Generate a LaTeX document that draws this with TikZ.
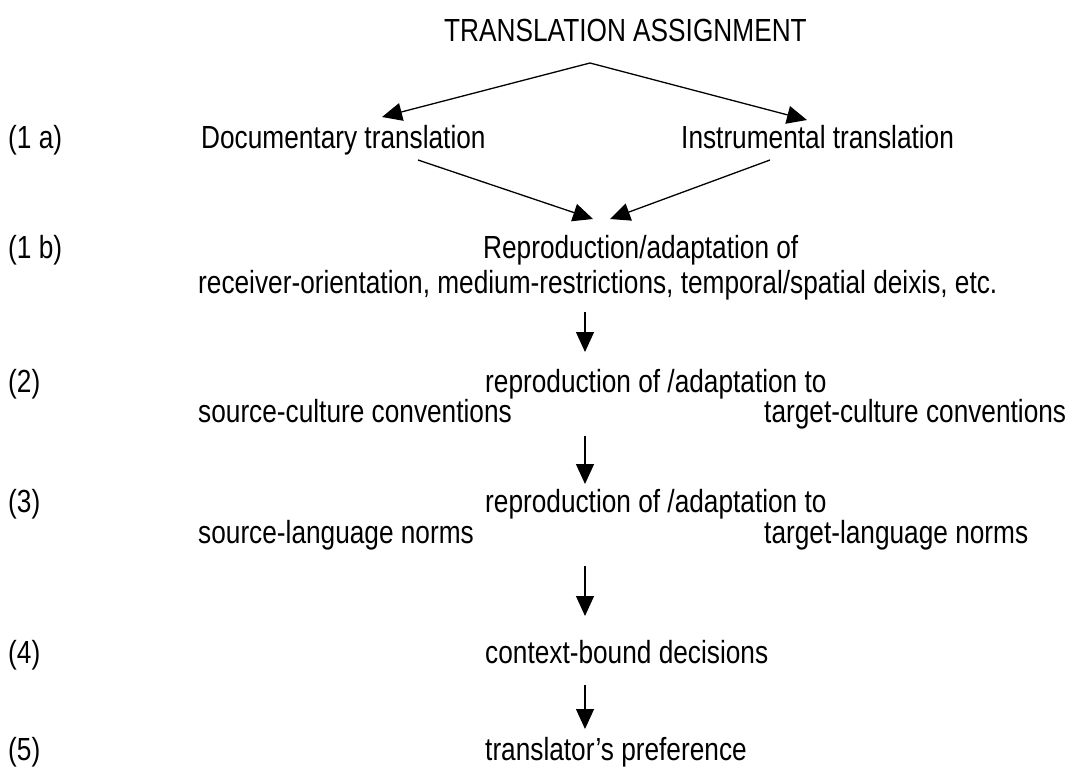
\documentclass[tikz,border=0pt]{standalone}
\usepackage{fontspec}
\setmainfont{Liberation Sans}[FakeStretch=0.82]
\usetikzlibrary{arrows.meta}
\begin{document}
\begin{tikzpicture}[x=1pt,y=-1pt,
  txt/.style={inner sep=0pt,anchor=base west,font=\fontsize{32}{36}\selectfont},
  arr/.style={line width=1.3pt,-{Triangle[length=20pt,width=18pt]}}]
\useasboundingbox[fill=white] (0,0) rectangle (1074,782);

% row labels
\node[txt] (l1a) at (8,148) {(1 a)};
\node[txt] (l1b) at (8,258) {(1 b)};
\node[txt] (l2)  at (8,392) {(2)};
\node[txt] (l3)  at (8,512) {(3)};
\node[txt] (l4)  at (8,663) {(4)};
\node[txt] (l5)  at (8,760) {(5)};

% texts
\node[txt] (assign) at (444,41) {TRANSLATION ASSIGNMENT};
\node[txt] (doc) at (201,148) {Documentary translation};
\node[txt] (ins) at (681,148) {Instrumental translation};
\node[txt] (repro) at (483,258) {Reproduction/adaptation of};
\node[txt] (recv) at (198,293) {receiver-orientation, medium-restrictions, temporal/spatial deixis, etc.};
\node[txt] (rep2) at (485,392) {reproduction of /adaptation to};
\node[txt] (scult) at (198,422) {source-culture conventions};
\node[txt] (tcult) at (764,422) {target-culture conventions};
\node[txt] (rep3) at (485,512) {reproduction of /adaptation to};
\node[txt] (slang) at (198,543) {source-language norms};
\node[txt] (tlang) at (764,543) {target-language norms};
\node[txt] (ctx) at (485,663) {context-bound decisions};
\node[txt] (pref) at (485,760) {translator’s preference};

% connector end points
\coordinate (apex) at (590,63);
\coordinate (docin) at (382,117);
\coordinate (insin) at (807,120);
\coordinate (docout) at (418,160);
\coordinate (insout) at (770,160);
\coordinate (reproinL) at (593,219);
\coordinate (reproinR) at (610,219);
\coordinate (recvout) at (585,312);
\coordinate (rep2in) at (585,352);
\coordinate (cultout) at (585,436);
\coordinate (rep3in) at (585,484);
\coordinate (langout) at (585,566);
\coordinate (ctxin) at (585,616);
\coordinate (ctxout) at (585,685);
\coordinate (prefin) at (585,729);

\draw[arr] (apex) -- (docin);
\draw[arr] (apex) -- (insin);
\draw[arr] (docout) -- (reproinL);
\draw[arr] (insout) -- (reproinR);
\draw[arr] (recvout) -- (rep2in);
\draw[arr] (cultout) -- (rep3in);
\draw[arr] (langout) -- (ctxin);
\draw[arr] (ctxout) -- (prefin);
\end{tikzpicture}
\end{document}
